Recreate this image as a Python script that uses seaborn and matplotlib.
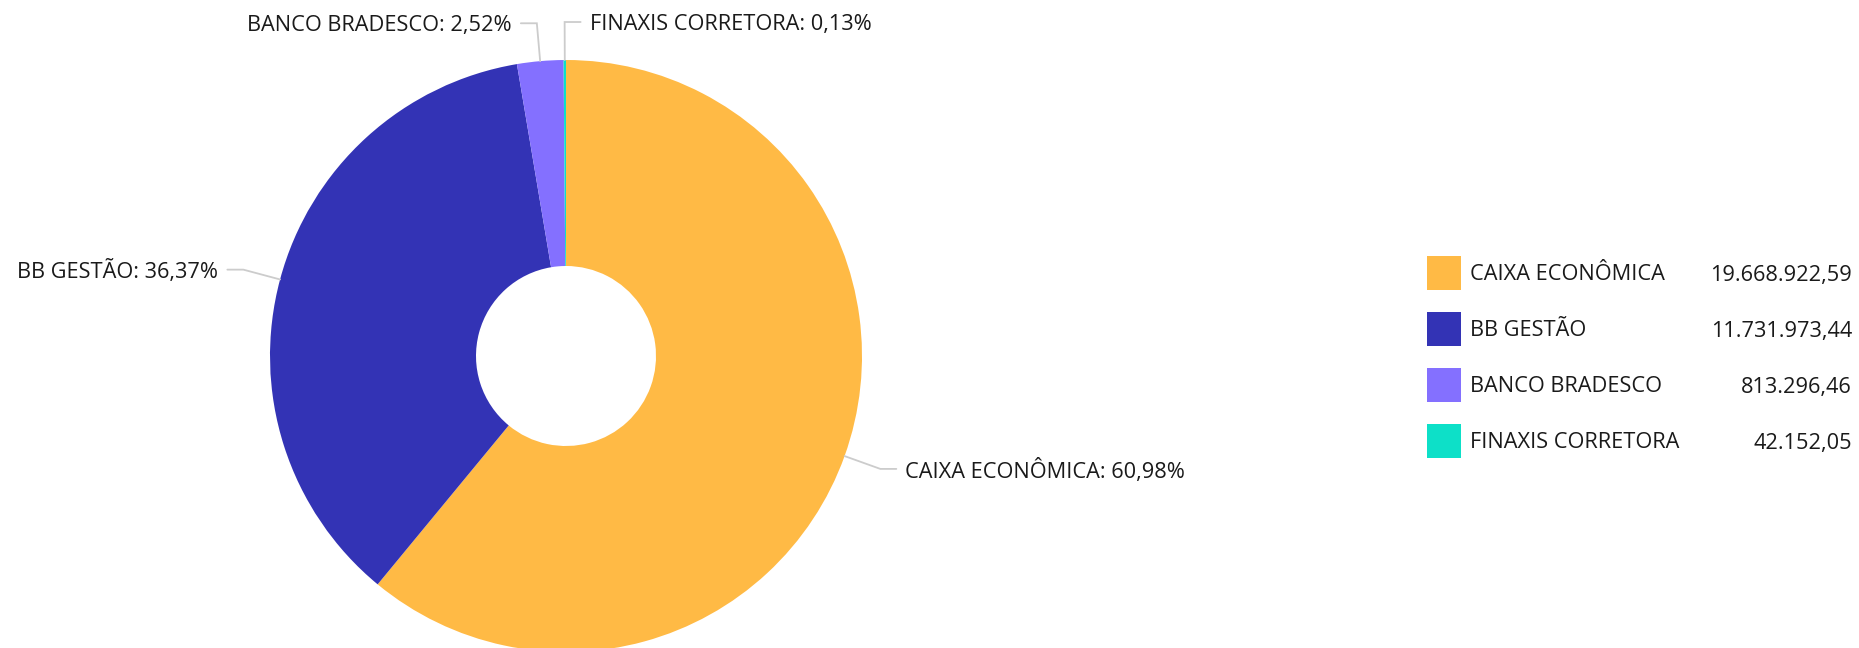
import numpy as np
import matplotlib
matplotlib.use("Agg")
import matplotlib.pyplot as plt
import seaborn as sns

categories = ["CAIXA ECONÔMICA", "BB GESTÃO", "BANCO BRADESCO", "FINAXIS CORRETORA"]
values = [19668922.59, 11731973.44, 813296.46, 42152.05]
colors = ["#FFBA45", "#3333B5", "#8470FF", "#0DE0C8"]

sns.set_theme(style="white")
plt.rcParams["font.family"] = ["Open Sans", "DejaVu Sans"]

W, H = 1859, 648
fig = plt.figure(figsize=(W / 100, H / 100), dpi=100)
ax = fig.add_axes([0, 0, 1, 1])
ax.set_xlim(0, W)
ax.set_ylim(0, H)
ax.set_aspect("equal")
ax.axis("off")

cx, cy = 566, 292
R, r_in = 296, 90
wedges, _ = ax.pie(values, colors=colors, startangle=90, counterclock=False,
                   center=(cx, cy), radius=R, frame=True,
                   wedgeprops=dict(width=R - r_in, linewidth=0))
ax.set_xlim(0, W)
ax.set_ylim(0, H)
ax.axis("off")

def br(v, dec=2):
    s = f"{v:,.{dec}f}"
    return s.replace(",", "X").replace(".", ",").replace("X", ".")

total = sum(values)
fs = 15.7
txtc = "#1a1a1a"
linec = "#cccccc"
dy = -2
for w, cat, v in zip(wedges, categories, values):
    ang = np.deg2rad((w.theta1 + w.theta2) / 2)
    c, s = np.cos(ang), np.sin(ang)
    p0 = (cx + R * c, cy + R * s)
    p1 = (cx + (R + 38) * c, cy + (R + 38) * s)
    side = 1 if c > -0.02 else -1
    p2 = (p1[0] + side * 16, p1[1])
    ax.plot([p0[0], p1[0], p2[0]], [p0[1], p1[1], p2[1]], color=linec, lw=1.3,
            solid_joinstyle="miter")
    ax.text(p2[0] + side * 9, p2[1] + dy, f"{cat}: {br(100 * v / total)}%",
            ha="left" if side > 0 else "right", va="center", fontsize=fs, color=txtc)

# legend with values
ytop = H - 273
for i, (cat, v, col) in enumerate(zip(categories, values, colors)):
    y = ytop - i * 56
    ax.add_patch(plt.Rectangle((1427, y - 17), 34, 34, color=col, lw=0))
    ax.text(1470, y + dy, cat, ha="left", va="center", fontsize=fs, color=txtc)
    ax.text(1852, y + dy, br(v), ha="right", va="center", fontsize=fs, color=txtc)

fig.savefig("out.png", dpi=100)
